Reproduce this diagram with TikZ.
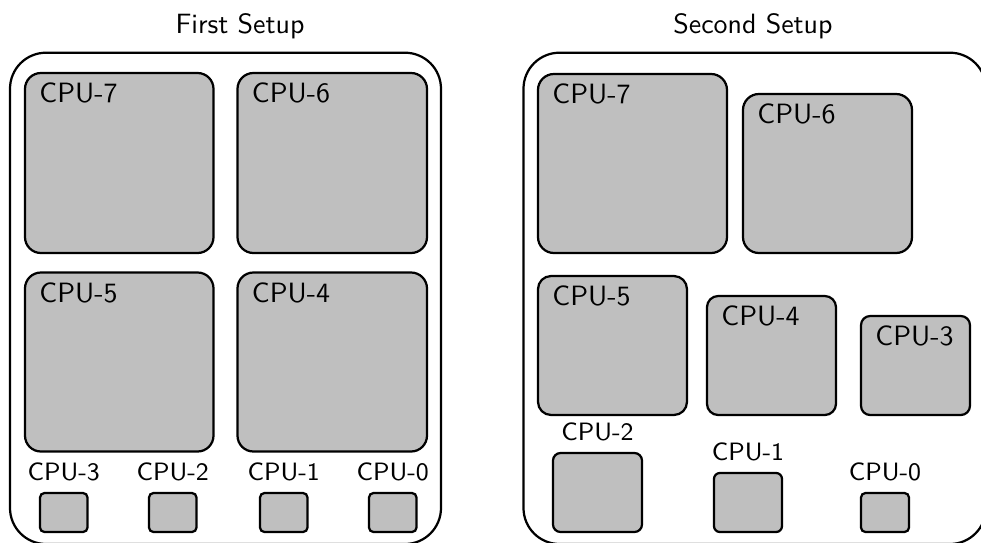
\documentclass[tikz,border=0pt]{standalone}
\usepackage{fontspec}
\usetikzlibrary{fit}
\begin{document}
\begin{tikzpicture}[x=0.3584pt,y=-0.3584pt,font=\sffamily,
  setup/.style={draw,thick,rounded corners=12.9pt,inner sep=0pt},
  c/.style={draw,thick,fill=lightgray,rounded corners=#1,inner sep=0pt},
  c/.default=5.7pt,
  n/.style={inner sep=0pt,anchor=base west},
  s/.style={inner sep=0pt,anchor=base,font=\sffamily\small}]
  \useasboundingbox (0,0) rectangle (981,542);
  \clip (0,0) rectangle (981,542);
  % first setup
  \node[anchor=base] (t1) at (240,33.5) {First Setup};
  \node[setup,fit={(10,52.7) (441,544)}] (s1) {};
  \node[c,fit={(25,73) (213.5,253)}] (a7) {};
  \node[c,fit={(237.5,73) (427,253)}] (a6) {};
  \node[c,fit={(25,272.5) (213.5,451.5)}] (a5) {};
  \node[c,fit={(237.5,272.5) (427,451.5)}] (a4) {};
  \node[c=1.6pt,fit={(40,493) (87.5,532)}] (a3) {};
  \node[c=1.6pt,fit={(149,493) (196.5,532)}] (a2) {};
  \node[c=1.6pt,fit={(260,493) (307.5,532)}] (a1) {};
  \node[c=1.6pt,fit={(369,493) (416.5,532)}] (a0) {};
  \node[n] (a7n) at ([shift={(15,31)}]a7.north west) {CPU-7};
  \node[n] (a6n) at ([shift={(15,31)}]a6.north west) {CPU-6};
  \node[n] (a5n) at ([shift={(15,31)}]a5.north west) {CPU-5};
  \node[n] (a4n) at ([shift={(15,31)}]a4.north west) {CPU-4};
  \node[s] (a3n) at ([shift={(0,-11)}]a3.north) {CPU-3};
  \node[s] (a2n) at ([shift={(0,-11)}]a2.north) {CPU-2};
  \node[s] (a1n) at ([shift={(0,-11)}]a1.north) {CPU-1};
  \node[s] (a0n) at ([shift={(0,-11)}]a0.north) {CPU-0};
  % second setup
  \node[anchor=base] (t2) at (753,33.5) {Second Setup};
  \node[setup,fit={(523.5,52.7) (986,544)}] (s2) {};
  \node[c,fit={(538,74) (727,253)}] (b7) {};
  \node[c,fit={(743,94) (912,253)}] (b6) {};
  \node[c=4.7pt,fit={(538,276) (687,415)}] (b5) {};
  \node[c=4pt,fit={(707,296) (836,415)}] (b4) {};
  \node[c=3.3pt,fit={(861,316) (970,415)}] (b3) {};
  \node[c=2.7pt,fit={(553,453) (642,532)}] (b2) {};
  \node[c=2.1pt,fit={(714,473) (782,532)}] (b1) {};
  \node[c=1.6pt,fit={(861,493) (909,532)}] (b0) {};
  \node[n] (b7n) at ([shift={(15,31)}]b7.north west) {CPU-7};
  \node[n] (b6n) at ([shift={(15,31)}]b6.north west) {CPU-6};
  \node[n] (b5n) at ([shift={(15,31)}]b5.north west) {CPU-5};
  \node[n] (b4n) at ([shift={(15,31)}]b4.north west) {CPU-4};
  \node[n] (b3n) at ([shift={(15,31)}]b3.north west) {CPU-3};
  \node[s] (b2n) at ([shift={(0,-11)}]b2.north) {CPU-2};
  \node[s] (b1n) at ([shift={(0,-11)}]b1.north) {CPU-1};
  \node[s] (b0n) at ([shift={(0,-11)}]b0.north) {CPU-0};
\end{tikzpicture}
\end{document}
